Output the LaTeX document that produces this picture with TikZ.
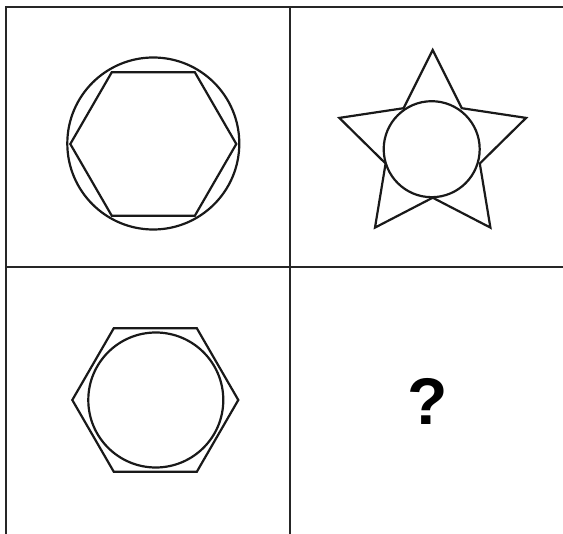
\documentclass[tikz,border=0pt]{standalone}
\usepackage{fontspec}
\setmainfont{Liberation Sans}
\begin{document}
\begin{tikzpicture}[x=1pt,y=-1pt,
  gridline/.style={line width=2.2pt,draw=black!85},
  shapeline/.style={line width=2.2pt,draw=black!90,line join=miter}]
\useasboundingbox (0,0) rectangle (563,534);
% grid
\draw[gridline] (6,534) -- (6,7) -- (564,7);
\draw[gridline] (290,7) -- (290,534);
\draw[gridline] (6,267) -- (564,267);
% top-left: circle around hexagon
\draw[shapeline] (153.3,143.5) circle[radius=86pt];
\draw[shapeline] (70.3,144) -- (111.8,72.2) -- (194.8,72.2) -- (236.3,144) -- (194.8,215.8) -- (111.8,215.8) -- cycle;
% top-right: star with circle
\draw[shapeline] (432.7,50.0) -- (461.8,108.2) -- (526.1,117.9) -- (479.8,163.5) -- (490.4,227.6) -- (432.7,197.7) -- (375.0,227.6) -- (385.6,163.5) -- (339.3,117.9) -- (403.6,108.2) -- cycle;
\draw[shapeline] (431.7,149.2) circle[radius=48pt];
% bottom-left: hexagon around circle
\draw[shapeline] (72.3,400) -- (113.8,328.2) -- (196.8,328.2) -- (238.3,400) -- (196.8,471.8) -- (113.8,471.8) -- cycle;
\draw[shapeline] (155.8,400) circle[radius=67.5pt];
% bottom-right: question mark
\node[font=\fontsize{66}{66}\selectfont\bfseries,inner sep=0pt] (q) at (427.5,401.5) {?};
\end{tikzpicture}
\end{document}
